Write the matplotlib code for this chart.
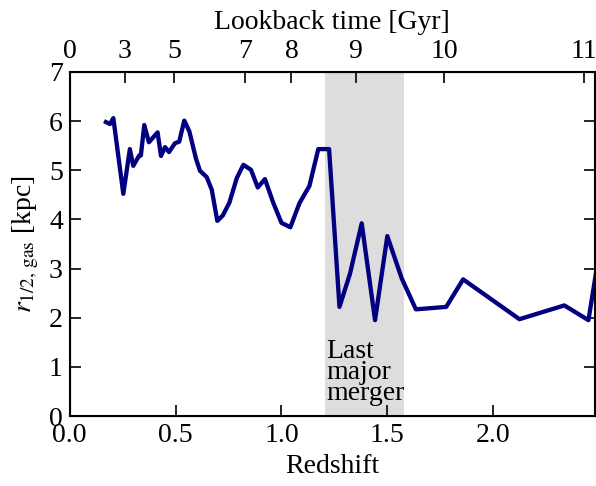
import numpy as np
import matplotlib
matplotlib.use("Agg")
import matplotlib.pyplot as plt

plt.rcParams['font.family'] = ['Liberation Serif', 'DejaVu Serif']
plt.rcParams['mathtext.fontset'] = 'stix'

# redshift and gas half-mass radius
z = [0.171, 0.190, 0.206, 0.253, 0.284, 0.300, 0.328, 0.336, 0.352, 0.374,
     0.415, 0.431, 0.450, 0.469, 0.497, 0.517, 0.541, 0.565, 0.596, 0.615,
     0.647, 0.671, 0.697, 0.723, 0.754, 0.789, 0.820, 0.856, 0.888, 0.922,
     0.962, 1.000, 1.042, 1.085, 1.132, 1.174, 1.225, 1.274, 1.324, 1.379,
     1.442, 1.500, 1.568, 1.635, 1.778, 1.858, 2.124, 2.336, 2.450, 2.50]
r_gas = [5.98, 5.94, 6.06, 4.52, 5.43, 5.09, 5.30, 5.30, 5.92, 5.57,
         5.77, 5.29, 5.47, 5.37, 5.55, 5.58, 6.01, 5.79, 5.24, 4.99,
         4.86, 4.60, 3.97, 4.08, 4.34, 4.84, 5.11, 5.01, 4.65, 4.82,
         4.33, 3.93, 3.84, 4.33, 4.68, 5.43, 5.43, 2.22, 2.90, 3.92,
         1.95, 3.66, 2.80, 2.17, 2.22, 2.78, 1.97, 2.25, 1.95, 3.3]

merger_z = (1.206, 1.579)

# top axis: lookback time labels and their redshift positions
lookback_labels = ['0', '3', '5', '7', '8', '9', '10', '11']
lookback_z = [0.0, 0.26, 0.494, 0.828, 1.047, 1.35, 1.77, 2.43]

fs = 20

fig = plt.figure(figsize=(5.96, 4.86), dpi=100)
ax = fig.add_axes([0.117, 0.144, 0.881, 0.708])

ax.axvspan(merger_z[0], merger_z[1], color='#dddddd', lw=0, zorder=0)
ax.plot(z, r_gas, color='#000080', lw=3.1, zorder=2)
ax.text(merger_z[0] + 0.005, 0.2, 'Last\nmajor\nmerger', fontsize=fs,
        ha='left', va='bottom', linespacing=0.8)

ax.set_xlim(0, 2.48)
ax.set_ylim(0, 7)
ax.set_xticks([0.0, 0.5, 1.0, 1.5, 2.0])
ax.set_xticklabels(['0.0', '0.5', '1.0', '1.5', '2.0'])
ax.set_yticks(range(0, 8))
ax.tick_params(direction='in', length=8, width=1.2, labelsize=fs,
               right=True, top=False, pad=5)
ax.set_xlabel('Redshift', fontsize=fs, labelpad=4)
ax.set_ylabel(r'$r_{1/2,\,\rm gas}$ [kpc]', fontsize=fs, labelpad=6)
for s in ax.spines.values():
    s.set_linewidth(1.5)

ax2 = ax.twiny()
ax2.set_xlim(ax.get_xlim())
ax2.set_xticks(lookback_z)
ax2.set_xticklabels(lookback_labels)
ax2.tick_params(direction='in', length=8, width=1.2, labelsize=fs, pad=6)
ax2.set_xlabel('Lookback time [Gyr]', fontsize=fs, labelpad=7)

fig.savefig('out.png', dpi=100)
